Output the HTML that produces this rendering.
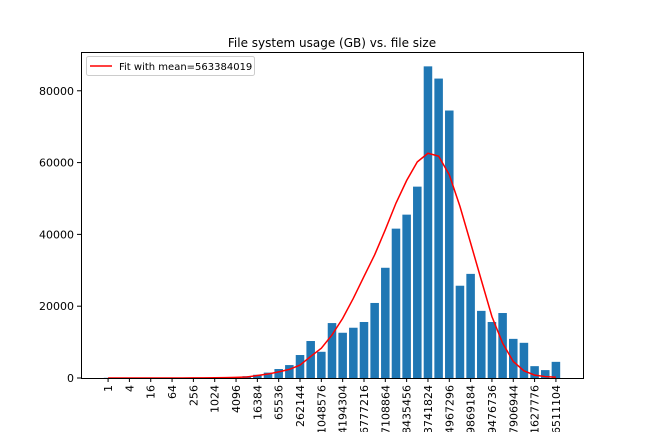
<!DOCTYPE html>
<html><head><meta charset="utf-8"><style>
html,body{margin:0;background:#fff;width:648px;height:432px;overflow:hidden;}
svg{display:block;font-family:"DejaVu Sans","Liberation Sans",sans-serif;overflow:hidden;}
</style></head><body>
<svg id="chart" width="648" height="432" viewBox="0 0 648 432" xmlns="http://www.w3.org/2000/svg">
<defs><clipPath id="frameclip"><rect x="0" y="0" width="648" height="432"/></clipPath></defs>
<rect width="648" height="432" fill="#fff"/>
<text x="332" y="47" font-size="12" text-anchor="middle">File system usage (GB) vs. file size</text>
<g id="bars"></g>
<g id="fit"></g>
<g id="yaxis"></g>
<g id="xaxis" clip-path="url(#frameclip)"></g>
<rect x="81.5" y="52.5" width="502" height="326" fill="none" stroke="#000" stroke-width="1"/>
<g>
<rect x="86.5" y="56.5" width="168" height="19" rx="2" fill="#fff" stroke="#ccc"/>
<line x1="90" y1="66" x2="112" y2="66" stroke="red" stroke-width="1.5"/>
<text x="119" y="70" font-size="10">Fit with mean=563384019</text>
</g>
</svg>
<script>
const categories = Array.from({length:43},(_,i)=>String(2**i));
const usage = [50,50,50,50,50,50,50,50,50,60,100,150,250,500,900,
1500,2500,3600,6400,10300,7300,15300,12600,14000,15600,20900,30700,41600,45500,53300,
86800,83400,74500,25700,29000,18700,15600,18100,10900,9800,3300,2200,4500];
const fitValues = [0,0,0.5,1,2,3,5,10,20,35,60,100,170,280,700,1100,1700,2400,3600,6000,8300,12000,16600,22200,28300,34300,41300,48700,55000,60200,
62600,61800,56600,47800,37600,27300,17100,9700,4600,2000,800,400,200];
const yTicks = [0,20000,40000,60000,80000];
const NS="http://www.w3.org/2000/svg";
const x0=81,x1=583,y0=378,y1=52;
const xmin=-2.54,xmax=44.54,ymax=90800;
const xs=v=>x0+(v-xmin)/(xmax-xmin)*(x1-x0);
const ys=v=>y0-v/ymax*(y0-y1);
function mk(tag,attrs,parent){const e=document.createElementNS(NS,tag);for(const k in attrs)e.setAttribute(k,attrs[k]);parent.appendChild(e);return e;}
const gb=document.getElementById('bars');
usage.forEach((v,i)=>{
  const r=mk('rect',{x:xs(i-0.4),y:ys(v),width:xs(0.8)-xs(0),height:y0-ys(v),fill:'#1f77b4'},gb);
  
  
});
const gf=document.getElementById('fit');
const p=mk('polyline',{points:fitValues.map((v,i)=>xs(i)+','+ys(v)).join(' '),fill:'none',stroke:'red','stroke-width':1.5},gf);


const gy=document.getElementById('yaxis');
yTicks.forEach(t=>{
  const y=ys(t);
  const l=mk('line',{x1:77,x2:81,y1:y,y2:y,stroke:'#000'},gy);
  
  
  const tx=mk('text',{x:74,y:y+4,'font-size':11,'text-anchor':'end'},gy);
  tx.textContent=t;
  
  
});
const gx=document.getElementById('xaxis');
categories.forEach((c,i)=>{
  if(i%2) return;
  const x=xs(i);
  const l=mk('line',{x1:x,x2:x,y1:378,y2:382,stroke:'#000'},gx);
  
  
  const tx=mk('text',{x:0,y:0,'font-size':11,'text-anchor':'end',transform:`translate(${x+4},385) rotate(-90)`},gx);
  tx.textContent=c;
  
  
});
</script>
</body></html>
